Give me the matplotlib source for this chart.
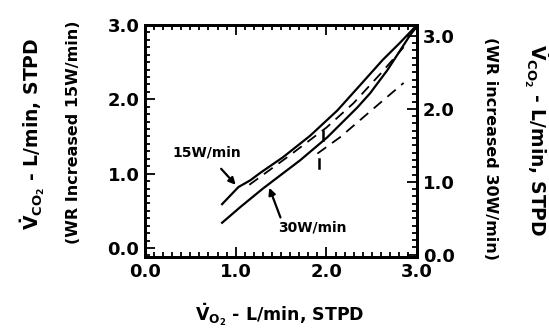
import matplotlib
matplotlib.use("Agg")
import matplotlib.pyplot as plt
from matplotlib.ticker import MultipleLocator
import numpy as np

plt.rcParams['font.family'] = ['DejaVu Sans']
plt.rcParams['font.weight'] = 'bold'
plt.rcParams['mathtext.fontset'] = 'dejavusans'
plt.rcParams['mathtext.default'] = 'bf'

# Data (VO2 in L/min, VCO2 in L/min)
vo2_15 = [0.85, 1.03, 1.16, 1.27, 1.52, 1.82, 2.12, 2.40, 2.62, 2.81, 2.99]
vco2_15 = [0.59, 0.82, 0.91, 1.01, 1.22, 1.51, 1.85, 2.23, 2.53, 2.76, 2.99]

vo2_30 = [0.85, 1.05, 1.30, 1.71, 2.01, 2.34, 2.48, 2.67, 2.92, 2.99]
vco2_30 = [0.34, 0.55, 0.80, 1.18, 1.49, 1.89, 2.08, 2.39, 2.86, 2.97]

vo2_dash_a = [1.15, 1.60, 2.00, 2.30, 2.60, 2.85]
vco2_dash_a = [0.85, 1.25, 1.62, 1.95, 2.35, 2.70]

vo2_dash_b = [1.90, 2.15, 2.37, 2.59, 2.85]
vco2_dash_b = [1.27, 1.49, 1.72, 1.95, 2.22]

x_ticks = [0.0, 1.0, 2.0, 3.0]
x_ticklabels = ["0.0", "1.0", "2.0", "3.0"]
y_ticks = [0.0, 1.0, 2.0, 3.0]
y_ticklabels = ["0.0", "1.0", "2.0", "3.0"]

fig = plt.figure(figsize=(5.49, 3.32), dpi=100)
ax = fig.add_axes([0.264, 0.226, 0.496, 0.699])

ax.plot(vo2_15, vco2_15, color='black', lw=1.6)
ax.plot(vo2_30, vco2_30, color='black', lw=1.6)
ax.plot(vo2_dash_a, vco2_dash_a, color='black', lw=1.3, dashes=(6, 4))
ax.plot(vo2_dash_b, vco2_dash_b, color='black', lw=1.3, dashes=(6, 4))

# small threshold marks
ax.plot([1.96, 1.96], [1.45, 1.58], color='black', lw=1.8)
ax.plot([1.92, 1.92], [1.07, 1.20], color='black', lw=1.8)

ax.set_xlim(0, 3.0)
ax.set_ylim(-0.12, 3.0)
ax.set_xticks(x_ticks)
ax.set_xticklabels(x_ticklabels)
ax.set_yticks(y_ticks)
ax.set_yticklabels(y_ticklabels)
ax.xaxis.set_minor_locator(MultipleLocator(0.1))
ax.yaxis.set_minor_locator(MultipleLocator(0.1))
ax.tick_params(which='both', direction='in', top=True, width=1.3, labelsize=13)
ax.tick_params(which='major', length=7, pad=4)
ax.tick_params(which='minor', length=3.5)
for s in ax.spines.values():
    s.set_linewidth(2)

ax2 = ax.twinx()
ax2.set_ylim(-0.03, 3.15)
ax2.set_yticks(y_ticks)
ax2.set_yticklabels(y_ticklabels)
ax2.yaxis.set_minor_locator(MultipleLocator(0.1))
ax2.tick_params(which='both', direction='in', width=1.3, labelsize=13)
ax2.tick_params(which='major', length=7, pad=4)
ax2.tick_params(which='minor', length=3.5)
for s in ax2.spines.values():
    s.set_linewidth(2)

# annotations
ax.annotate("15W/min", xy=(1.00, 0.85), xytext=(0.68, 1.28), ha='center', va='center',
            fontsize=10, fontweight='bold',
            arrowprops=dict(arrowstyle='-|>', color='black', lw=1.6, shrinkA=6, shrinkB=0))
ax.annotate("30W/min", xy=(1.37, 0.81), xytext=(1.85, 0.28), ha='center', va='center',
            fontsize=10, fontweight='bold',
            arrowprops=dict(arrowstyle='-|>', color='black', lw=1.6, shrinkA=0, shrinkB=0,
                            relpos=(0.05, 0.9)))

# axis labels
fig.text(0.060, 0.598, r'$\dot{V}_{CO_2}$ - L/min, STPD', rotation=90, ha='center', va='center',
         fontsize=13.5, fontweight='bold')
fig.text(0.133, 0.602, '(WR Increased 15W/min)', rotation=90, ha='center', va='center',
         fontsize=11.5, fontweight='bold')
fig.text(0.894, 0.554, '(WR increased 30W/min)', rotation=-90, ha='center', va='center',
         fontsize=11.5, fontweight='bold')
fig.text(0.976, 0.578, r'$\dot{V}_{CO_2}$ - L/min, STPD', rotation=-90, ha='center', va='center',
         fontsize=13.5, fontweight='bold')
fig.text(0.51, 0.051, r'$\dot{V}_{O_2}$ - L/min, STPD', ha='center', va='center',
         fontsize=12.5, fontweight='bold')

fig.savefig("out.png", dpi=100)
